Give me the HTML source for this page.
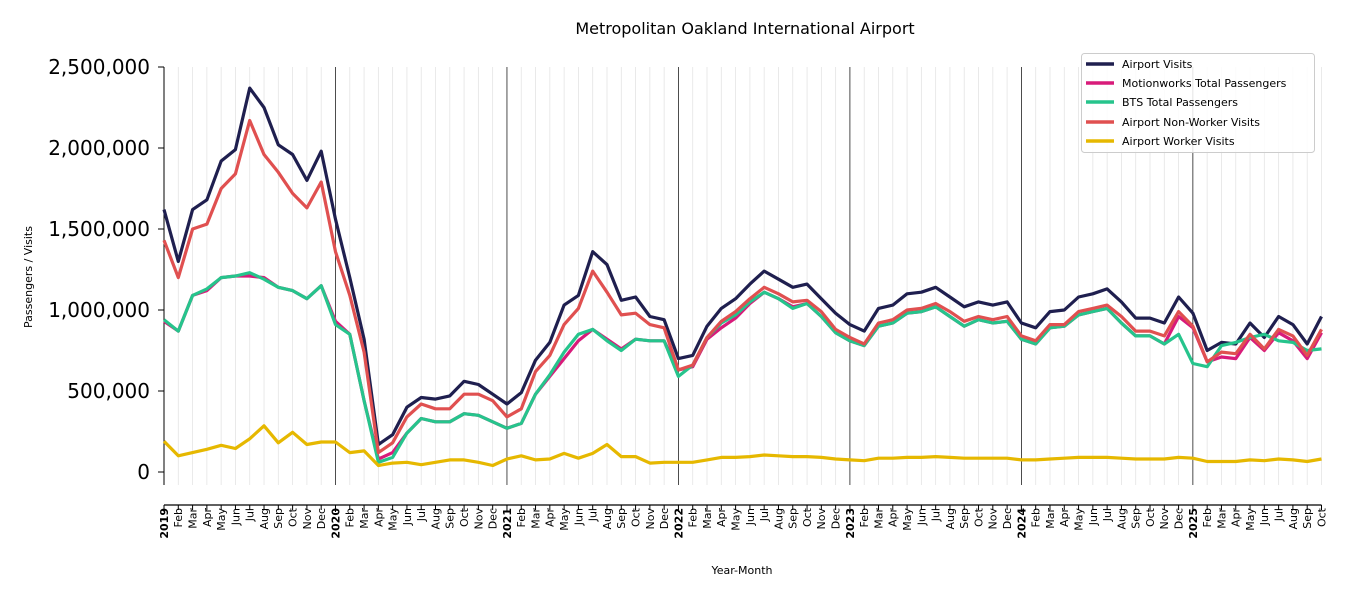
<!DOCTYPE html>
<html><head><meta charset="utf-8"><style>
body{margin:0;background:#fff}
svg{display:block;font-family:"DejaVu Sans","Liberation Sans",sans-serif}
.ml{font-size:11px;fill:#000}
.yl{font-size:11px;font-weight:bold;fill:#000}
</style></head><body>
<svg id="s" width="1350" height="600" xmlns="http://www.w3.org/2000/svg">
<text x="745" y="34" text-anchor="middle" font-size="16">Metropolitan Oakland International Airport</text>
<g id="grid"></g>
<line x1="164" y1="67" x2="164" y2="485" stroke="#000" stroke-width="1"/>
<line x1="164" y1="505" x2="1321.5" y2="505" stroke="#000" stroke-width="1.2"/>
<g font-size="20" text-anchor="end" fill="#000">
<line x1="158" y1="67" x2="164" y2="67" stroke="#000"/><text x="150" y="74">2,500,000</text>
<line x1="158" y1="148" x2="164" y2="148" stroke="#000"/><text x="150" y="155">2,000,000</text>
<line x1="158" y1="229" x2="164" y2="229" stroke="#000"/><text x="150" y="236">1,500,000</text>
<line x1="158" y1="310" x2="164" y2="310" stroke="#000"/><text x="150" y="317">1,000,000</text>
<line x1="158" y1="391" x2="164" y2="391" stroke="#000"/><text x="150" y="398">500,000</text>
<line x1="158" y1="472" x2="164" y2="472" stroke="#000"/><text x="150" y="479">0</text>
</g>
<text transform="translate(32,277) rotate(-90)" text-anchor="middle" font-size="11">Passengers / Visits</text>
<text x="742" y="574" text-anchor="middle" font-size="11">Year-Month</text>
<g id="lines" fill="none" stroke-width="3.2" stroke-linejoin="round"></g>
<g id="ticks"></g>
<g id="labels">
<text class="yl" transform="translate(164.0,508) rotate(-90)" text-anchor="end" dy="0.35em">2019</text>
<text class="ml" transform="translate(178.3,508) rotate(-90)" text-anchor="end" dy="0.35em">Feb</text>
<text class="ml" transform="translate(192.6,508) rotate(-90)" text-anchor="end" dy="0.35em">Mar</text>
<text class="ml" transform="translate(206.9,508) rotate(-90)" text-anchor="end" dy="0.35em">Apr</text>
<text class="ml" transform="translate(221.2,508) rotate(-90)" text-anchor="end" dy="0.35em">May</text>
<text class="ml" transform="translate(235.5,508) rotate(-90)" text-anchor="end" dy="0.35em">Jun</text>
<text class="ml" transform="translate(249.7,508) rotate(-90)" text-anchor="end" dy="0.35em">Jul</text>
<text class="ml" transform="translate(264.0,508) rotate(-90)" text-anchor="end" dy="0.35em">Aug</text>
<text class="ml" transform="translate(278.3,508) rotate(-90)" text-anchor="end" dy="0.35em">Sep</text>
<text class="ml" transform="translate(292.6,508) rotate(-90)" text-anchor="end" dy="0.35em">Oct</text>
<text class="ml" transform="translate(306.9,508) rotate(-90)" text-anchor="end" dy="0.35em">Nov</text>
<text class="ml" transform="translate(321.2,508) rotate(-90)" text-anchor="end" dy="0.35em">Dec</text>
<text class="yl" transform="translate(335.5,508) rotate(-90)" text-anchor="end" dy="0.35em">2020</text>
<text class="ml" transform="translate(349.8,508) rotate(-90)" text-anchor="end" dy="0.35em">Feb</text>
<text class="ml" transform="translate(364.1,508) rotate(-90)" text-anchor="end" dy="0.35em">Mar</text>
<text class="ml" transform="translate(378.4,508) rotate(-90)" text-anchor="end" dy="0.35em">Apr</text>
<text class="ml" transform="translate(392.6,508) rotate(-90)" text-anchor="end" dy="0.35em">May</text>
<text class="ml" transform="translate(406.9,508) rotate(-90)" text-anchor="end" dy="0.35em">Jun</text>
<text class="ml" transform="translate(421.2,508) rotate(-90)" text-anchor="end" dy="0.35em">Jul</text>
<text class="ml" transform="translate(435.5,508) rotate(-90)" text-anchor="end" dy="0.35em">Aug</text>
<text class="ml" transform="translate(449.8,508) rotate(-90)" text-anchor="end" dy="0.35em">Sep</text>
<text class="ml" transform="translate(464.1,508) rotate(-90)" text-anchor="end" dy="0.35em">Oct</text>
<text class="ml" transform="translate(478.4,508) rotate(-90)" text-anchor="end" dy="0.35em">Nov</text>
<text class="ml" transform="translate(492.7,508) rotate(-90)" text-anchor="end" dy="0.35em">Dec</text>
<text class="yl" transform="translate(507.0,508) rotate(-90)" text-anchor="end" dy="0.35em">2021</text>
<text class="ml" transform="translate(521.3,508) rotate(-90)" text-anchor="end" dy="0.35em">Feb</text>
<text class="ml" transform="translate(535.5,508) rotate(-90)" text-anchor="end" dy="0.35em">Mar</text>
<text class="ml" transform="translate(549.8,508) rotate(-90)" text-anchor="end" dy="0.35em">Apr</text>
<text class="ml" transform="translate(564.1,508) rotate(-90)" text-anchor="end" dy="0.35em">May</text>
<text class="ml" transform="translate(578.4,508) rotate(-90)" text-anchor="end" dy="0.35em">Jun</text>
<text class="ml" transform="translate(592.7,508) rotate(-90)" text-anchor="end" dy="0.35em">Jul</text>
<text class="ml" transform="translate(607.0,508) rotate(-90)" text-anchor="end" dy="0.35em">Aug</text>
<text class="ml" transform="translate(621.3,508) rotate(-90)" text-anchor="end" dy="0.35em">Sep</text>
<text class="ml" transform="translate(635.6,508) rotate(-90)" text-anchor="end" dy="0.35em">Oct</text>
<text class="ml" transform="translate(649.9,508) rotate(-90)" text-anchor="end" dy="0.35em">Nov</text>
<text class="ml" transform="translate(664.2,508) rotate(-90)" text-anchor="end" dy="0.35em">Dec</text>
<text class="yl" transform="translate(678.4,508) rotate(-90)" text-anchor="end" dy="0.35em">2022</text>
<text class="ml" transform="translate(692.7,508) rotate(-90)" text-anchor="end" dy="0.35em">Feb</text>
<text class="ml" transform="translate(707.0,508) rotate(-90)" text-anchor="end" dy="0.35em">Mar</text>
<text class="ml" transform="translate(721.3,508) rotate(-90)" text-anchor="end" dy="0.35em">Apr</text>
<text class="ml" transform="translate(735.6,508) rotate(-90)" text-anchor="end" dy="0.35em">May</text>
<text class="ml" transform="translate(749.9,508) rotate(-90)" text-anchor="end" dy="0.35em">Jun</text>
<text class="ml" transform="translate(764.2,508) rotate(-90)" text-anchor="end" dy="0.35em">Jul</text>
<text class="ml" transform="translate(778.5,508) rotate(-90)" text-anchor="end" dy="0.35em">Aug</text>
<text class="ml" transform="translate(792.8,508) rotate(-90)" text-anchor="end" dy="0.35em">Sep</text>
<text class="ml" transform="translate(807.1,508) rotate(-90)" text-anchor="end" dy="0.35em">Oct</text>
<text class="ml" transform="translate(821.3,508) rotate(-90)" text-anchor="end" dy="0.35em">Nov</text>
<text class="ml" transform="translate(835.6,508) rotate(-90)" text-anchor="end" dy="0.35em">Dec</text>
<text class="yl" transform="translate(849.9,508) rotate(-90)" text-anchor="end" dy="0.35em">2023</text>
<text class="ml" transform="translate(864.2,508) rotate(-90)" text-anchor="end" dy="0.35em">Feb</text>
<text class="ml" transform="translate(878.5,508) rotate(-90)" text-anchor="end" dy="0.35em">Mar</text>
<text class="ml" transform="translate(892.8,508) rotate(-90)" text-anchor="end" dy="0.35em">Apr</text>
<text class="ml" transform="translate(907.1,508) rotate(-90)" text-anchor="end" dy="0.35em">May</text>
<text class="ml" transform="translate(921.4,508) rotate(-90)" text-anchor="end" dy="0.35em">Jun</text>
<text class="ml" transform="translate(935.7,508) rotate(-90)" text-anchor="end" dy="0.35em">Jul</text>
<text class="ml" transform="translate(950.0,508) rotate(-90)" text-anchor="end" dy="0.35em">Aug</text>
<text class="ml" transform="translate(964.2,508) rotate(-90)" text-anchor="end" dy="0.35em">Sep</text>
<text class="ml" transform="translate(978.5,508) rotate(-90)" text-anchor="end" dy="0.35em">Oct</text>
<text class="ml" transform="translate(992.8,508) rotate(-90)" text-anchor="end" dy="0.35em">Nov</text>
<text class="ml" transform="translate(1007.1,508) rotate(-90)" text-anchor="end" dy="0.35em">Dec</text>
<text class="yl" transform="translate(1021.4,508) rotate(-90)" text-anchor="end" dy="0.35em">2024</text>
<text class="ml" transform="translate(1035.7,508) rotate(-90)" text-anchor="end" dy="0.35em">Feb</text>
<text class="ml" transform="translate(1050.0,508) rotate(-90)" text-anchor="end" dy="0.35em">Mar</text>
<text class="ml" transform="translate(1064.3,508) rotate(-90)" text-anchor="end" dy="0.35em">Apr</text>
<text class="ml" transform="translate(1078.6,508) rotate(-90)" text-anchor="end" dy="0.35em">May</text>
<text class="ml" transform="translate(1092.9,508) rotate(-90)" text-anchor="end" dy="0.35em">Jun</text>
<text class="ml" transform="translate(1107.1,508) rotate(-90)" text-anchor="end" dy="0.35em">Jul</text>
<text class="ml" transform="translate(1121.4,508) rotate(-90)" text-anchor="end" dy="0.35em">Aug</text>
<text class="ml" transform="translate(1135.7,508) rotate(-90)" text-anchor="end" dy="0.35em">Sep</text>
<text class="ml" transform="translate(1150.0,508) rotate(-90)" text-anchor="end" dy="0.35em">Oct</text>
<text class="ml" transform="translate(1164.3,508) rotate(-90)" text-anchor="end" dy="0.35em">Nov</text>
<text class="ml" transform="translate(1178.6,508) rotate(-90)" text-anchor="end" dy="0.35em">Dec</text>
<text class="yl" transform="translate(1192.9,508) rotate(-90)" text-anchor="end" dy="0.35em">2025</text>
<text class="ml" transform="translate(1207.2,508) rotate(-90)" text-anchor="end" dy="0.35em">Feb</text>
<text class="ml" transform="translate(1221.5,508) rotate(-90)" text-anchor="end" dy="0.35em">Mar</text>
<text class="ml" transform="translate(1235.8,508) rotate(-90)" text-anchor="end" dy="0.35em">Apr</text>
<text class="ml" transform="translate(1250.0,508) rotate(-90)" text-anchor="end" dy="0.35em">May</text>
<text class="ml" transform="translate(1264.3,508) rotate(-90)" text-anchor="end" dy="0.35em">Jun</text>
<text class="ml" transform="translate(1278.6,508) rotate(-90)" text-anchor="end" dy="0.35em">Jul</text>
<text class="ml" transform="translate(1292.9,508) rotate(-90)" text-anchor="end" dy="0.35em">Aug</text>
<text class="ml" transform="translate(1307.2,508) rotate(-90)" text-anchor="end" dy="0.35em">Sep</text>
<text class="ml" transform="translate(1321.5,508) rotate(-90)" text-anchor="end" dy="0.35em">Oct</text>
</g>
<g>
<rect x="1081.5" y="53.5" width="233" height="99" rx="3" fill="#fff" fill-opacity="0.85" stroke="#ccc"/>
<g stroke-width="3.5">
<line x1="1086" y1="64" x2="1114" y2="64" stroke="#1f1f4f"/>
<line x1="1086" y1="83" x2="1114" y2="83" stroke="#d81b7a"/>
<line x1="1086" y1="102" x2="1114" y2="102" stroke="#26c48c"/>
<line x1="1086" y1="122" x2="1114" y2="122" stroke="#e05050"/>
<line x1="1086" y1="141" x2="1114" y2="141" stroke="#e6b800"/>
</g>
<g font-size="11" fill="#000">
<text x="1122" y="68">Airport Visits</text>
<text x="1122" y="87">Motionworks Total Passengers</text>
<text x="1122" y="106">BTS Total Passengers</text>
<text x="1122" y="126">Airport Non-Worker Visits</text>
<text x="1122" y="145">Airport Worker Visits</text>
</g>
</g>
</svg>
<script>
var NS="http://www.w3.org/2000/svg";
function X(i){return 164+14.29*i}
function Y(v){return 472-v*0.162}
var g=document.getElementById("grid"),tk=document.getElementById("ticks");
for(var i=0;i<82;i++){
 var l=document.createElementNS(NS,"line");var x=X(i);
 l.setAttribute("x1",x);l.setAttribute("x2",x);l.setAttribute("y1",67);l.setAttribute("y2",485);
 if(i%12==0&&i>0){l.setAttribute("stroke","#000");l.setAttribute("stroke-width","0.7");}
 else{l.setAttribute("stroke","#e4e4e4");l.setAttribute("stroke-width","0.8");}
 if(i>0)g.appendChild(l);
 var t=document.createElementNS(NS,"line");
 t.setAttribute("x1",x);t.setAttribute("x2",x);t.setAttribute("y1",505);t.setAttribute("y2",i%12==0?512:510);
 t.setAttribute("stroke","#000");tk.appendChild(t);
}
var D={
"#1f1f4f":[1620,1300,1620,1680,1920,1990,2370,2250,2020,1960,1800,1980,1560,1200,820,170,230,400,460,450,470,560,540,480,420,490,690,800,1030,1090,1360,1280,1060,1080,960,940,700,720,900,1010,1070,1160,1240,1190,1140,1160,1070,980,910,870,1010,1030,1100,1110,1140,1080,1020,1050,1030,1050,920,890,990,1000,1080,1100,1130,1050,950,950,920,1080,980,750,800,790,920,830,960,910,790,960],
"#d81b7a":[930,870,1090,1120,1200,1210,1210,1200,1140,1120,1070,1150,930,850,440,80,120,240,330,310,310,360,350,310,270,300,480,590,700,810,880,820,760,820,810,810,630,650,820,890,950,1040,1110,1070,1020,1040,960,860,810,780,900,920,980,990,1020,960,900,940,920,930,820,790,890,900,970,990,1010,920,840,840,790,960,890,680,710,700,830,750,860,810,700,860],
"#26c48c":[940,870,1090,1130,1200,1210,1230,1190,1140,1120,1070,1150,910,850,440,60,90,240,330,310,310,360,350,310,270,300,480,600,740,850,880,810,750,820,810,810,590,660,830,920,970,1050,1110,1070,1010,1040,960,860,810,780,900,920,980,990,1020,960,900,940,920,930,820,790,890,900,970,990,1010,920,840,840,790,850,670,650,780,800,830,850,810,800,750,760],
"#e05050":[1430,1200,1500,1530,1750,1840,2170,1960,1850,1720,1630,1790,1360,1090,740,120,180,340,420,390,390,480,480,440,340,390,620,720,910,1010,1240,1110,970,980,910,890,630,660,830,930,990,1070,1140,1100,1050,1060,990,880,830,790,920,940,1000,1010,1040,990,930,960,940,960,840,810,910,910,990,1010,1030,960,870,870,840,990,900,680,740,730,850,760,880,840,720,880],
"#e6b800":[190,100,120,140,165,145,205,285,180,245,170,185,185,120,130,40,55,60,45,60,75,75,60,40,80,100,75,80,115,85,115,170,95,95,55,60,60,60,75,90,90,95,105,100,95,95,90,80,75,70,85,85,90,90,95,90,85,85,85,85,75,75,80,85,90,90,90,85,80,80,80,90,85,65,65,65,75,70,80,75,65,80]};
var L=document.getElementById("lines");
for(var c in D){var p=D[c].map(function(v,i){return X(i).toFixed(1)+","+Y(v).toFixed(1)}).join(" ");
 var pl=document.createElementNS(NS,"polyline");pl.setAttribute("points",p);pl.setAttribute("stroke",c);L.appendChild(pl);}
</script>
</body></html>
